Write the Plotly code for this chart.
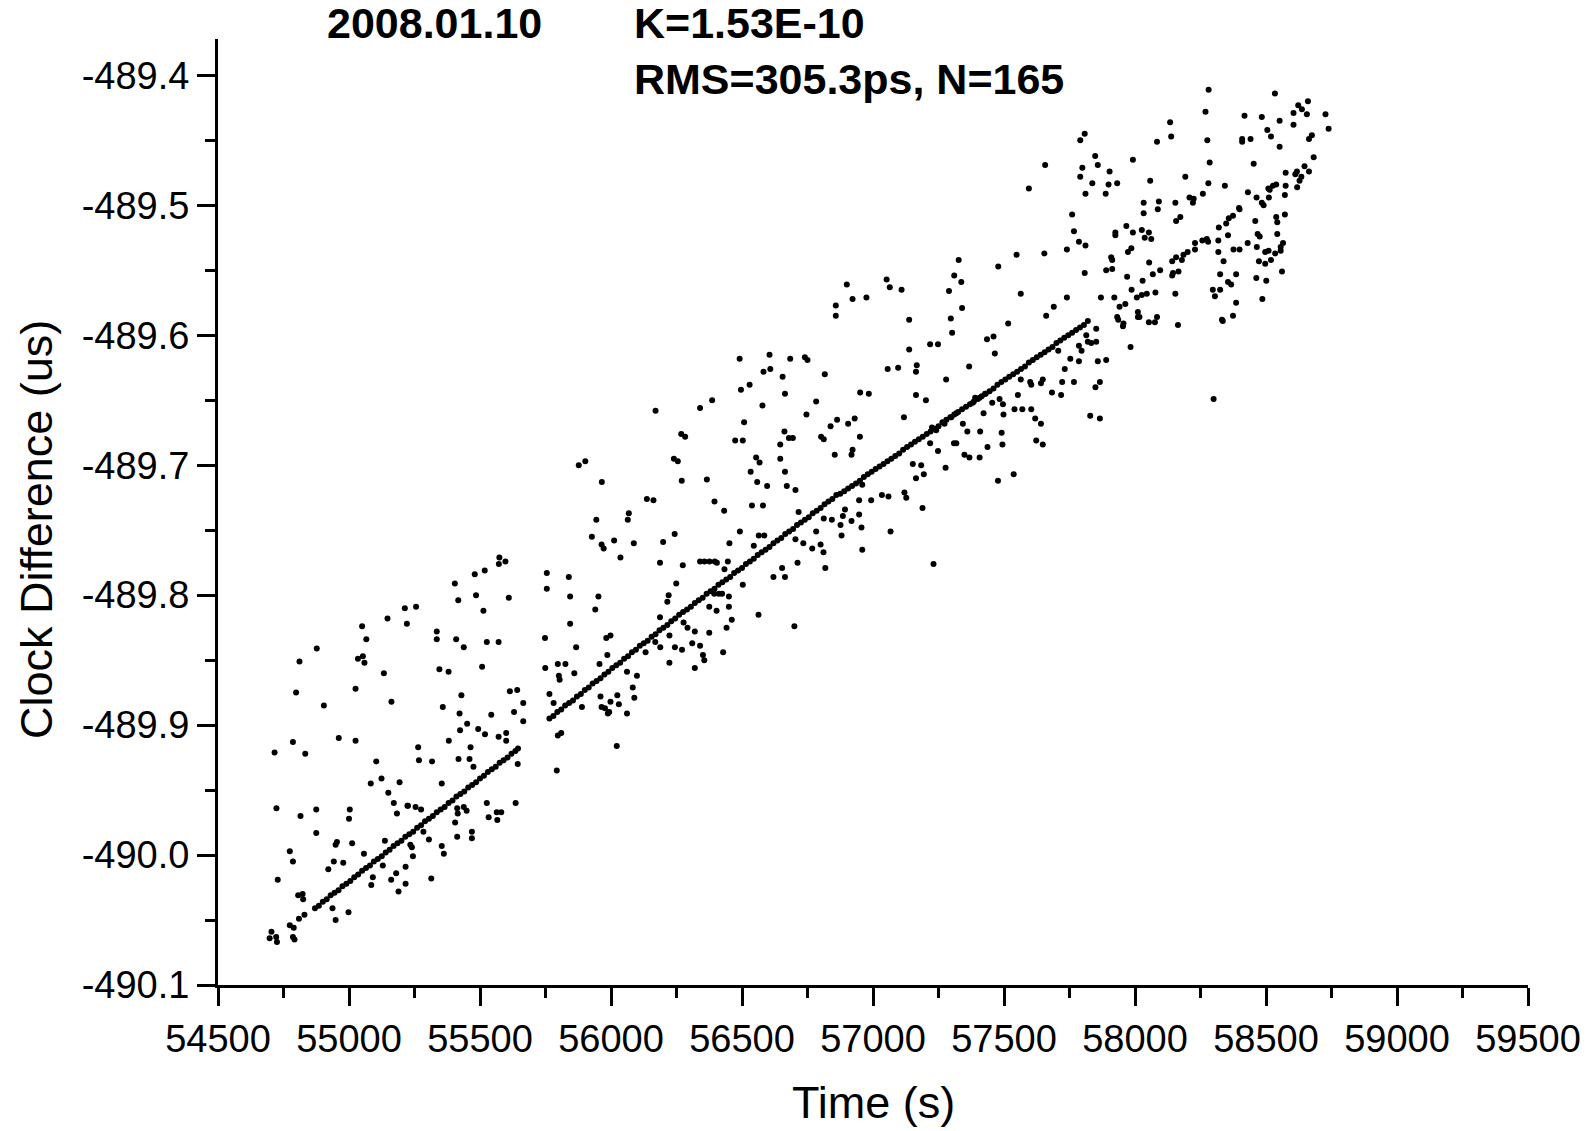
import plotly.graph_objects as go

# ---------------- data ----------------
# main straight run of points, first part (s, us)
line_a_t = [54870, 54885, 54900, 54915, 54930, 54945, 54960, 54975, 54990, 55005,
            55020, 55035, 55050, 55065, 55080, 55095, 55110, 55125, 55140, 55155,
            55170, 55185, 55200, 55215, 55230, 55245, 55260, 55275, 55290, 55305,
            55320, 55335, 55350, 55365, 55380, 55395, 55410, 55425, 55440, 55455,
            55470, 55485, 55500, 55515, 55530, 55545, 55560, 55575, 55590, 55605,
            55620, 55635, 55645]
line_a_d = [-490.041, -490.039, -490.036, -490.034, -490.031, -490.029, -490.027, -490.024, -490.022, -490.020,
            -490.017, -490.015, -490.012, -490.010, -490.008, -490.005, -490.003, -490.001, -489.998, -489.996,
            -489.993, -489.991, -489.989, -489.986, -489.984, -489.982, -489.979, -489.977, -489.974, -489.972,
            -489.970, -489.967, -489.965, -489.963, -489.960, -489.958, -489.955, -489.953, -489.951, -489.948,
            -489.946, -489.944, -489.941, -489.939, -489.936, -489.934, -489.932, -489.929, -489.927, -489.925,
            -489.922, -489.920, -489.918]

# main straight run, second part
line_b_t = [55765, 55780, 55795, 55810, 55825, 55840, 55855, 55870, 55885, 55900,
            55915, 55930, 55945, 55960, 55975, 55990, 56005, 56020, 56035, 56050,
            56065, 56080, 56095, 56110, 56125, 56140, 56155, 56170, 56185, 56200,
            56215, 56230, 56245, 56260, 56275,
            56290, 56305, 56320, 56335, 56350, 56365, 56380, 56395, 56410, 56425,
            56440, 56455, 56470, 56485, 56500, 56515, 56530, 56545, 56560, 56575,
            56590, 56605, 56620, 56635, 56650, 56665, 56680, 56695, 56710, 56725,
            56740, 56755, 56770, 56785, 56800, 56815, 56830, 56845, 56860,
            56875, 56890, 56905, 56920, 56935, 56950, 56965, 56980, 56995, 57010,
            57025, 57040, 57055, 57070, 57085, 57100, 57115, 57130, 57145, 57160,
            57175, 57190, 57205, 57220, 57235, 57250, 57265, 57280, 57295, 57310,
            57325, 57340, 57355, 57370, 57385, 57400,
            57415, 57430, 57445, 57460, 57475, 57490, 57505, 57520, 57535, 57550,
            57565, 57580, 57595, 57610, 57625, 57640, 57655, 57670, 57685, 57700,
            57715, 57730, 57745, 57760, 57775, 57790, 57805, 57820]
line_b_d = [-489.895, -489.893, -489.890, -489.888, -489.885, -489.883, -489.881, -489.878, -489.876, -489.873,
            -489.871, -489.868, -489.866, -489.864, -489.861, -489.859, -489.856, -489.854, -489.852, -489.849,
            -489.847, -489.844, -489.842, -489.839, -489.837, -489.835, -489.832, -489.830, -489.827, -489.825,
            -489.823, -489.820, -489.818, -489.815, -489.813,
            -489.811, -489.809, -489.806, -489.804, -489.802, -489.799, -489.797, -489.795, -489.792, -489.790,
            -489.788, -489.786, -489.783, -489.781, -489.779, -489.776, -489.774, -489.772, -489.769, -489.767,
            -489.765, -489.763, -489.760, -489.758, -489.756, -489.753, -489.751, -489.749, -489.746, -489.744,
            -489.742, -489.740, -489.737, -489.735, -489.733, -489.730, -489.728, -489.726, -489.723,
            -489.722, -489.720, -489.718, -489.716, -489.714, -489.712, -489.709, -489.707, -489.705, -489.703,
            -489.701, -489.699, -489.697, -489.695, -489.693, -489.691, -489.688, -489.686, -489.684, -489.682,
            -489.680, -489.678, -489.676, -489.674, -489.672, -489.670, -489.667, -489.665, -489.663, -489.661,
            -489.659, -489.657, -489.655, -489.653, -489.651, -489.649,
            -489.647, -489.645, -489.643, -489.641, -489.638, -489.636, -489.634, -489.632, -489.630, -489.628,
            -489.626, -489.624, -489.621, -489.619, -489.617, -489.615, -489.613, -489.611, -489.609, -489.606,
            -489.604, -489.602, -489.600, -489.598, -489.596, -489.594, -489.592, -489.589]

# scattered points, 54700 - 55230 s
scat1_t = [55050, 55066, 54877, 54811, 55034, 55053, 55059, 55133, 54798, 55025,
           55162, 54904, 54961, 55025, 54786, 54716, 54833, 55104, 55124, 55083,
           55193, 55150, 55171, 55223, 55183, 54723, 54815, 54875, 55003, 55000,
           54875, 54954, 54949, 55012, 55137, 54774, 54786, 55057, 54942, 54978,
           54921, 55129, 54728, 55091, 55085, 55161, 55180, 55216, 55216, 55189,
           54806, 54823, 54825, 54937, 54998, 54949, 54830, 54809, 54774, 54789,
           54786, 54792, 54704, 54697, 54722, 54725, 55147]
scat1_d = [-489.824, -489.834, -489.841, -489.851, -489.849, -489.847, -489.852, -489.860, -489.875, -489.872,
           -489.882, -489.885, -489.910, -489.912, -489.913, -489.921, -489.922, -489.928, -489.941, -489.945,
           -489.944, -489.952, -489.960, -489.962, -489.968, -489.964, -489.970, -489.965, -489.965, -489.972,
           -489.983, -489.990, -489.992, -489.991, -489.989, -489.997, -490.005, -489.999, -490.005, -490.006,
           -490.011, -490.008, -490.019, -490.017, -490.023, -490.019, -490.014, -490.009, -490.022, -490.028,
           -490.031, -490.030, -490.034, -490.041, -490.044, -490.050, -490.046, -490.049, -490.054, -490.056,
           -490.063, -490.065, -490.059, -490.064, -490.063, -490.067, -489.818]

# scattered points, 55200 - 55670 s
scat2_t = [55574, 55572, 55597, 55518, 55480, 55404, 55417, 55485, 55610, 55513,
           55213, 55256, 55221, 55335, 55335, 55409, 55438, 55526, 55571, 55345,
           55380, 55508, 55614, 55642, 55665, 55429, 55358, 55422, 55543, 55630,
           55665, 55451, 55493, 55424, 55519, 55571, 55600, 55600, 55381, 55464,
           55264, 55267, 55317, 55418, 55460, 55475, 55644, 55354, 55526, 55636,
           55564, 55581, 55533, 55566, 55413, 55438, 55415, 55449, 55405, 55469,
           55469, 55413, 55225, 55254, 55275, 55284, 55305, 55234, 55240, 55244,
           55354, 55362, 55314]
scat2_d = [-489.771, -489.776, -489.774, -489.781, -489.784, -489.791, -489.804, -489.800, -489.802, -489.812,
           -489.810, -489.809, -489.822, -489.828, -489.834, -489.834, -489.840, -489.836, -489.836, -489.857,
           -489.859, -489.855, -489.874, -489.873, -489.883, -489.877, -489.886, -489.891, -489.892, -489.890,
           -489.897, -489.899, -489.903, -489.904, -489.907, -489.909, -489.906, -489.912, -489.912, -489.917,
           -489.917, -489.927, -489.928, -489.926, -489.926, -489.932, -489.930, -489.945, -489.960, -489.960,
           -489.967, -489.967, -489.971, -489.973, -489.964, -489.963, -489.968, -489.966, -489.975, -489.982,
           -489.987, -489.986, -489.962, -489.963, -489.965, -489.982, -489.988, -489.992, -489.994, -490.001,
           -489.993, -489.999, -490.018]

# scattered points, 55740 - 56300 s
scat3_t = [55877, 55902, 55965, 56240, 56255, 56270, 56137, 56162, 56068, 56064,
           55944, 55927, 55964, 55972, 56012, 56087, 56036, 56199, 56243, 56187,
           56274, 56249, 55755, 55755, 55839, 55844, 55844, 55952, 55940, 56220,
           56215, 56187, 55748, 55867, 55982, 55998, 55986, 55749, 55797, 55826,
           55801, 55804, 55860, 55956, 55765, 55781, 55889, 55960, 55964, 55977,
           55988, 55993, 56024, 56030, 55998, 56061, 56083, 56089, 56099, 56132,
           56169, 56188, 56223, 56223, 56244, 56271, 56277, 56292, 56061, 56022,
           55793, 55797, 55810, 56170]
scat3_d = [-489.700, -489.697, -489.713, -489.695, -489.697, -489.712, -489.726, -489.727, -489.737, -489.742,
           -489.742, -489.755, -489.761, -489.764, -489.758, -489.760, -489.771, -489.759, -489.753, -489.775,
           -489.777, -489.791, -489.783, -489.795, -489.786, -489.801, -489.822, -489.801, -489.811, -489.800,
           -489.805, -489.817, -489.833, -489.840, -489.833, -489.831, -489.846, -489.856, -489.853, -489.853,
           -489.862, -489.865, -489.860, -489.853, -489.876, -489.883, -489.886, -489.878, -489.886, -489.887,
           -489.891, -489.890, -489.877, -489.884, -489.882, -489.891, -489.871, -489.879, -489.862, -489.844,
           -489.836, -489.840, -489.831, -489.852, -489.840, -489.842, -489.821, -489.825, -489.859, -489.916,
           -489.935, -489.908, -489.906, -489.658]

# scattered points, 56260 - 56870 s
scat4_t = [56491, 56605, 56582, 56608, 56684, 56740, 56750, 56816, 56655, 56664,
           56529, 56496, 56386, 56340, 56578, 56783, 56746, 56508, 56863, 56838,
           56474, 56503, 56646, 56662, 56679, 56694, 56802, 56812, 56854, 56554,
           56567, 56646, 56533, 56664, 56558, 56596, 56671, 56704, 56268, 56283,
           56366, 56395, 56432, 56538, 56580, 56716, 56492, 56452, 56564, 56585,
           56545, 56783, 56704, 56734, 56768, 56800, 56811, 56812, 56843, 56340,
           56357, 56376, 56396, 56404, 56446, 56433, 56503, 56620, 56653, 56664,
           56712, 56818, 56394, 56412, 56424, 56450, 56450, 56375, 56403, 56461,
           56441, 56563, 56700, 56320, 56375, 56310, 56340, 56351, 56356, 56320,
           56428]
scat4_d = [-489.618, -489.615, -489.628, -489.626, -489.618, -489.617, -489.619, -489.630, -489.632, -489.645,
           -489.638, -489.642, -489.650, -489.656, -489.654, -489.651, -489.661, -489.667, -489.665, -489.670,
           -489.681, -489.681, -489.684, -489.674, -489.679, -489.679, -489.678, -489.680, -489.692, -489.694,
           -489.698, -489.695, -489.705, -489.705, -489.713, -489.716, -489.716, -489.719, -489.676, -489.678,
           -489.711, -489.728, -489.735, -489.731, -489.731, -489.736, -489.751, -489.760, -489.754, -489.754,
           -489.762, -489.751, -489.757, -489.760, -489.764, -489.761, -489.767, -489.741, -489.742, -489.774,
           -489.774, -489.774, -489.774, -489.775, -489.774, -489.780, -489.792, -489.786, -489.779, -489.786,
           -489.775, -489.779, -489.799, -489.799, -489.799, -489.801, -489.809, -489.809, -489.812, -489.819,
           -489.825, -489.815, -489.824, -489.828, -489.829, -489.837, -489.839, -489.846, -489.850, -489.856,
           -489.844]

# scattered points, 56850 - 57440 s
scat5_t = [57327, 57310, 57337, 57290, 57340, 57297, 57302, 57435, 57052, 57064,
           57109, 56900, 56922, 56975, 56858, 56858, 57138, 57218, 57248, 57138,
           57056, 57096, 57167, 57164, 57367, 57279, 56951, 56984, 57164, 57202,
           57118, 56905, 56930, 56950, 56922, 56918, 57381, 57390, 57407, 57428,
           57422, 57409, 57437, 57407, 57349, 57368, 57309, 57318, 57343, 57360,
           57248, 57218, 57277, 57152, 57184, 57164, 57194, 57120, 57127, 57189,
           56947, 56993, 57034, 57059, 56959, 56893, 56885, 56876, 56918, 56947,
           56956, 56880, 57067, 56959, 57231, 57225, 57241, 57273, 57299, 57318]
scat5_d = [-489.542, -489.554, -489.559, -489.566, -489.579, -489.587, -489.598, -489.603, -489.557, -489.563,
           -489.565, -489.561, -489.572, -489.571, -489.577, -489.585, -489.588, -489.607, -489.607, -489.611,
           -489.626, -489.625, -489.623, -489.628, -489.624, -489.634, -489.644, -489.645, -489.646, -489.650,
           -489.663, -489.668, -489.664, -489.678, -489.688, -489.692, -489.652, -489.648, -489.648, -489.645,
           -489.660, -489.674, -489.686, -489.694, -489.692, -489.694, -489.683, -489.683, -489.668, -489.674,
           -489.689, -489.683, -489.702, -489.699, -489.700, -489.710, -489.707, -489.721, -489.725, -489.733,
           -489.727, -489.727, -489.723, -489.724, -489.715, -489.734, -489.739, -489.746, -489.743, -489.738,
           -489.748, -489.754, -489.751, -489.765, -489.776, -489.671, -489.673, -489.668, -489.663, -489.660]

# scattered points, 57450 - 58010 s
scat6_t = [57595, 57837, 57811, 57888, 57899, 57932, 57760, 57767, 57786, 57811,
           57740, 57925, 57925, 57967, 57992, 57973, 57986, 57909, 57913, 57890,
           57913, 57970, 57987, 58007, 57808, 57548, 57654, 57478, 57564, 57690,
           57740, 57870, 57921, 57963, 57941, 57932, 57936, 57956, 57954, 58011,
           58011, 57983, 57661, 57516, 57460, 57465, 57852, 57814, 57890, 57858,
           57786, 57786, 57753, 57796, 57732, 57767, 57722, 57683, 57718, 57707,
           57820, 57833, 57852, 57564, 57600, 57604, 57641, 57648, 57553, 57540,
           57570, 57604, 57619, 57641, 57623, 57648, 57829, 57866, 57866, 57849,
           57491, 57494, 57498, 57477, 57537, 57483, 57496, 57455, 57808, 57791,
           57848, 57858, 57799, 57791, 57903, 57657]
scat6_d = [-489.487, -489.483, -489.491, -489.491, -489.484, -489.483, -489.507, -489.520, -489.528, -489.531,
           -489.534, -489.521, -489.523, -489.516, -489.521, -489.536, -489.533, -489.540, -489.542, -489.550,
           -489.549, -489.555, -489.565, -489.571, -489.552, -489.538, -489.537, -489.547, -489.568, -489.578,
           -489.571, -489.571, -489.571, -489.576, -489.578, -489.586, -489.588, -489.591, -489.593, -489.582,
           -489.586, -489.609, -489.585, -489.591, -489.601, -489.614, -489.595, -489.600, -489.619, -489.620,
           -489.608, -489.620, -489.618, -489.612, -489.626, -489.636, -489.636, -489.644, -489.646, -489.612,
           -489.605, -489.606, -489.605, -489.634, -489.636, -489.638, -489.637, -489.634, -489.646, -489.657,
           -489.657, -489.657, -489.664, -489.668, -489.681, -489.684, -489.662, -489.664, -489.636, -489.640,
           -489.675, -489.684, -489.661, -489.712, -489.707, -489.649, -489.653, -489.652, -489.445, -489.450,
           -489.462, -489.469, -489.471, -489.478, -489.474, -489.469]

# scattered points, 58000 - 58480 s
scat7_t = [58269, 58418, 58134, 58138, 58084, 58276, 58409, 58409, 58441, 57992,
           58285, 58453, 58058, 58192, 58280, 58343, 58431, 58464, 58033, 58091,
           58087, 58154, 58208, 58224, 58221, 58259, 58033, 58173, 58157, 58399,
           58397, 58374, 58358, 58348, 58320, 58459, 58026, 58053, 58037, 58062,
           58355, 58468, 58318, 58257, 58274, 58279, 58229, 58229, 58201, 58185,
           58430, 58465, 58376, 58399, 58318, 58473, 58054, 58142, 58157, 58179,
           58338, 58068, 58096, 58145, 58166, 58142, 58325, 58386, 58463, 58029,
           58026, 58045, 58078, 58154, 58297, 58305, 58325, 58355, 58367, 58386,
           58017, 58053, 58076, 58084, 58164, 58332, 58335, 58374, 58300, 58281]
scat7_d = [-489.428, -489.431, -489.436, -489.447, -489.451, -489.450, -489.449, -489.451, -489.449, -489.465,
           -489.467, -489.468, -489.481, -489.478, -489.483, -489.485, -489.490, -489.494, -489.498, -489.497,
           -489.503, -489.498, -489.494, -489.495, -489.498, -489.491, -489.506, -489.509, -489.512, -489.503,
           -489.502, -489.508, -489.510, -489.514, -489.517, -489.512, -489.519, -489.521, -489.525, -489.526,
           -489.523, -489.522, -489.527, -489.527, -489.526, -489.528, -489.529, -489.534, -489.536, -489.538,
           -489.529, -489.532, -489.534, -489.534, -489.536, -489.543, -489.544, -489.543, -489.540, -489.542,
           -489.543, -489.553, -489.550, -489.552, -489.551, -489.554, -489.553, -489.553, -489.556, -489.558,
           -489.569, -489.568, -489.567, -489.568, -489.565, -489.570, -489.565, -489.559, -489.561, -489.575,
           -489.586, -489.590, -489.590, -489.586, -489.592, -489.588, -489.589, -489.585, -489.649, -489.411]

# scattered points, 58470 - 58750 s
scat8_t = [58534, 58484, 58552, 58505, 58519, 58552, 58605, 58605, 58623, 58637,
           58660, 58656, 58727, 58739, 58664, 58675, 58682, 58647, 58664, 58612,
           58618, 58635, 58628, 58619, 58575, 58539, 58526, 58509, 58514, 58511,
           58575, 58572, 58484, 58491, 58539, 58543, 58572, 58476, 58543, 58565,
           58556, 58556, 58497, 58510, 58535, 58519, 58497, 58561, 58501, 58486]
scat8_d = [-489.414, -489.432, -489.435, -489.442, -489.447, -489.455, -489.429, -489.438, -489.423, -489.426,
           -489.420, -489.430, -489.430, -489.441, -489.449, -489.446, -489.463, -489.470, -489.474, -489.476,
           -489.474, -489.478, -489.481, -489.486, -489.475, -489.484, -489.485, -489.487, -489.488, -489.494,
           -489.485, -489.492, -489.498, -489.500, -489.509, -489.513, -489.507, -489.524, -489.522, -489.529,
           -489.532, -489.535, -489.536, -489.535, -489.537, -489.542, -489.545, -489.551, -489.558, -489.572]

x_tick_vals = [54500, 55000, 55500, 56000, 56500, 57000, 57500, 58000, 58500, 59000, 59500]
x_tick_text = ["54500", "55000", "55500", "56000", "56500", "57000", "57500", "58000", "58500", "59000", "59500"]
y_tick_vals = [-490.1, -490.0, -489.9, -489.8, -489.7, -489.6, -489.5, -489.4]
y_tick_text = ["-490.1", "-490.0", "-489.9", "-489.8", "-489.7", "-489.6", "-489.5", "-489.4"]

date_label = "2008.01.10"
k_label = "K=1.53E-10"
rms_label = "RMS=305.3ps, N=165"
x_title = "Time (s)"
y_title = "Clock Difference (us)"

# ---------------- figure ----------------
all_t = (line_a_t + line_b_t + scat1_t + scat2_t + scat3_t + scat4_t
         + scat5_t + scat6_t + scat7_t + scat8_t)
all_d = (line_a_d + line_b_d + scat1_d + scat2_d + scat3_d + scat4_d
         + scat5_d + scat6_d + scat7_d + scat8_d)

FONT = "Liberation Sans, Arial, sans-serif"

fig = go.Figure()
fig.add_trace(go.Scatter(
    x=all_t, y=all_d, mode="markers",
    marker=dict(color="black", size=6, line=dict(width=0)),
    showlegend=False, hoverinfo="skip",
))

W, H = 1593, 1131
L, R, T, B = 218, 65, 39, 146
pw, ph = W - L - R, H - T - B

def px_x(px):
    return (px - L) / pw

def px_y(py):
    return (H - B - py) / ph

axis_common = dict(
    showline=True, linecolor="black", linewidth=3, mirror=False,
    showgrid=False, zeroline=False,
    ticks="outside", ticklen=18, tickwidth=3, tickcolor="black",
    tickfont=dict(family=FONT, size=38, color="black"),
    automargin=False,
)

fig.update_xaxes(
    range=[54500, 59500], tickmode="array", tickvals=x_tick_vals, ticktext=x_tick_text,
    minor=dict(ticks="outside", ticklen=10, tickwidth=3, tickcolor="black",
               tick0=54500, dtick=250, showgrid=False),
    **axis_common,
)
fig.update_yaxes(
    range=[-490.1, -489.372], tickmode="array", tickvals=y_tick_vals, ticktext=y_tick_text,
    minor=dict(ticks="outside", ticklen=10, tickwidth=3, tickcolor="black",
               tick0=-490.1, dtick=0.05, showgrid=False),
    **axis_common,
)

annotations = [
    dict(text=f"<b>{date_label}</b>", x=px_x(325), y=px_y(23), xanchor="left", yanchor="middle",
         font=dict(family=FONT, size=43, color="black")),
    dict(text=f"<b>{k_label}</b>", x=px_x(632), y=px_y(23), xanchor="left", yanchor="middle",
         font=dict(family=FONT, size=43, color="black")),
    dict(text=f"<b>{rms_label}</b>", x=px_x(632), y=px_y(79), xanchor="left", yanchor="middle",
         font=dict(family=FONT, size=43, color="black")),
    dict(text=x_title, x=px_x(873), y=px_y(1102), xanchor="center", yanchor="middle",
         font=dict(family=FONT, size=45, color="black")),
    dict(text=y_title, x=px_x(36), y=px_y(530), xanchor="center", yanchor="middle", textangle=-90,
         font=dict(family=FONT, size=45, color="black")),
]
for a in annotations:
    a.update(xref="paper", yref="paper", showarrow=False)

fig.update_layout(
    width=W, height=H,
    margin=dict(l=L, r=R, t=T, b=B, pad=0),
    paper_bgcolor="white", plot_bgcolor="white",
    annotations=annotations,
)

fig.write_html("out.html")
